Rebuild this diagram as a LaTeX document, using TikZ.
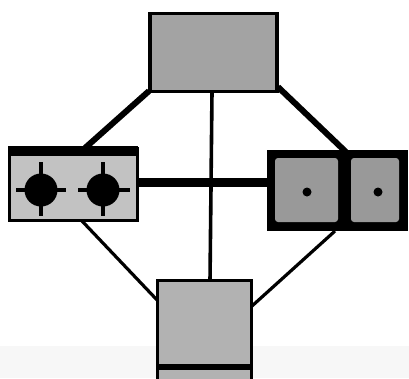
\documentclass[tikz,border=0pt]{standalone}
\begin{document}
\begin{tikzpicture}[x=1pt,y=-1pt,
  box/.style={draw=black,rectangle,inner sep=0pt,outer sep=0pt},
  thinlink/.style={line width=3.2pt,black},
  thicklink/.style={line width=6pt,black},
  burner/.style={fill=black},
  cross/.style={line width=3.4pt,black},
  dot/.style={fill=black}]
\clip (0,0) rectangle (409,378);
\fill[white] (0,0) rectangle (409,378);
\fill[black!3] (0,346) rectangle (409,378);
% connectors (behind boxes)
\coordinate (tl) at (149,91);
\coordinate (tr) at (278,87);
\coordinate (lt) at (85,148);
\coordinate (rt) at (346,152);
\coordinate (tv) at (212,92);
\coordinate (bv) at (210,281);
\coordinate (lb) at (82,221);
\coordinate (bl) at (158,301);
\coordinate (rb) at (335,231);
\coordinate (br) at (252,306);
\coordinate (lh) at (137,182);
\coordinate (rh) at (268,182);
\draw[thicklink] (tl) -- (lt);
\draw[thicklink] (tr) -- (rt);
\draw[line width=3.6pt] (tv) -- (bv);
\draw[thinlink] (lb) -- (bl);
\draw[thinlink] (rb) -- (br);
\draw[line width=9pt] (lh) -- (rh);
% top box
\node[box,line width=3.5pt,fill=black!36,minimum width=127pt,minimum height=78pt] (top) at (213.5,52.5) {};
% left box
\node[box,line width=3pt,fill=black!24,minimum width=128pt,minimum height=72pt] (left) at (73,184) {};
\fill[black] (8,146) rectangle (138,156);
\draw[cross] (16,190) -- (66,190) (41,162) -- (41,216);
\fill[burner] (41,190) circle (16.5);
\draw[cross] (78,190) -- (130,190) (103,162) -- (103,216);
\fill[burner] (103,190) circle (16.5);
% right box
\node[box,fill=black,minimum width=140pt,minimum height=80pt] (right) at (337,190) {};
\fill[black!40,rounded corners=3pt] (275,158) rectangle (338,222);
\fill[black!40,rounded corners=3pt] (351,158) rectangle (399,222);
\fill[dot] (307,192) circle (4.5);
\fill[dot] (378,192) circle (4.5);
% bottom box
\node[box,line width=3pt,fill=black!30,minimum width=94pt,minimum height=85pt] (bottom) at (204.5,323) {};
\draw[line width=3pt,fill=black!30] (157.5,368.5) rectangle (251,385);
\end{tikzpicture}
\end{document}
